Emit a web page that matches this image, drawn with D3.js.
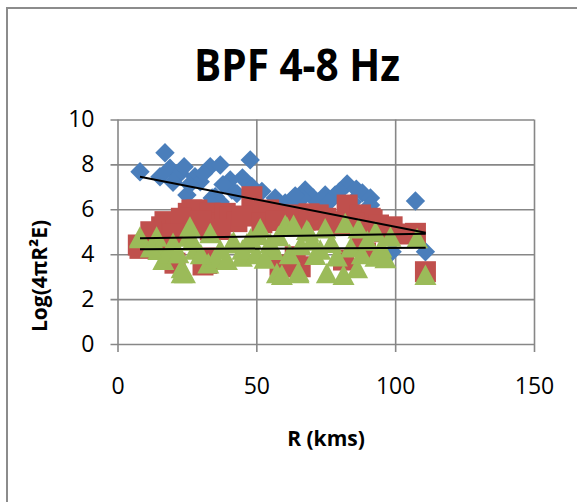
<!DOCTYPE html>
<html>
<head>
<meta charset="utf-8">
<script src="https://cdn.jsdelivr.net/npm/d3@7"></script>
<style>
  body { margin: 0; background: #fff; }
  text { font-family: "Open Sans", sans-serif; fill: #000; }
</style>
</head>
<body>
<div id="chart"></div>
<script>
var width = 577;
var height = 502;

// series: [R (km), Log(4πR²E)]
var blueDiamonds = [[8.1,7.67],[17.1,8.52],[15.3,7.45],[18.9,7.83],[22.5,7.6],[25.0,6.64],[27.9,7.45],[29.8,7.23],
    [33.4,7.9],[37.0,7.97],[35.2,6.56],[40.6,7.31],[41.2,6.86],[47.8,8.2],[48.4,7.01],[34.1,6.5],[37.0,6.33],
    [33.4,6.28],[56.8,6.5],[60.4,6.28],[63.3,6.19],[67.6,6.86],[70.5,6.5],[66.5,6.5],[72.3,6.33],[74.8,6.64],
    [78.4,6.64],[82.7,7.13],[84.6,6.33],[88.2,6.73],[91.1,6.5],[91.1,6.19],[107.3,6.37],[110.9,4.11],[98.9,4.11],
    [20,7.2],[24,7.9],[31,7.6],[38,7.1],[43,6.7],[45,7.4],[26,7.1],[52,6.8],[58,6.3],[80,6.8],[86,6.9],
    [64,6.6],[76,6.3]];

var redSquares = [[8.1,4.26],[7.5,4.41],[15.9,5.22],[18.3,5.3],[17.1,5.45],[14.7,4.33],[25.5,5.82],[26.8,5.97],
    [28.6,5.97],[33.4,5.83],[35.8,5.38],[33.4,5.08],[32.6,5.3],[38.8,5.82],[40.6,5.67],[43.0,5.45],[48.4,6.56],
    [49.0,5.97],[54.4,5.97],[55.0,5.82],[61.6,5.67],[63.4,5.67],[62.2,5.75],[67.6,5.52],[70.6,5.52],[72.3,5.75],
    [77.2,5.45],[82.7,6.19],[87.5,5.75],[91.0,5.6],[91.7,5.52],[98.9,5.22],[107.3,4.93],[110.9,3.22],[88.0,4.63],
    [89.3,4.05],[81.4,3.74],[61.6,3.44],[64.0,3.89],[58.6,3.44],[65.8,3.44],[58.6,3.52],[31.6,3.83],[32.2,3.59],
    [30.8,3.52],[20.7,3.6],[21,5.1],[23,5.6],[30,5.5],[37,5.1],[45,5.7],[52,5.4],[57,5.5],[65,5.3],[69,5.8],
    [75,5.6],[80,5.3],[85,5.4],[94,5.3],[96,5.0],[102,4.9],[12,5.0],[20,4.9]];

var greenTriangles = [[8.1,4.78],[8.1,4.71],[14.1,4.78],[14.7,4.19],[16.5,3.74],[18.3,4.04],[21.9,4.04],[23.1,3.37],
    [24.3,3.15],[23.1,3.15],[25.5,4.78],[26.1,5.22],[32.7,3.59],[33.4,4.93],[35.2,3.82],[39.4,3.74],[41.2,4.48],
    [41.8,4.56],[44.8,3.89],[46.6,4.48],[50.8,4.86],[51.4,5.15],[56.2,4.19],[57.4,3.15],[59.2,3.07],[60.4,5.3],
    [61.0,5.22],[63.4,5.3],[65.2,3.22],[65.2,3.15],[68.2,5.08],[68.8,5.0],[71.2,3.96],[74.8,5.15],[75.4,3.15],
    [81.4,3.07],[82.0,5.38],[86.3,3.37],[86.8,5.15],[92.9,5.0],[92.9,3.89],[96.5,3.82],[98.3,4.78],[107.9,4.71],
    [110.9,3.07],[12,4.3],[20,4.5],[28,4.2],[30,4.0],[37,4.2],[45,4.2],[50,4.0],[53,3.8],[55,4.5],[62,4.0],
    [66,4.4],[70,4.6],[73,4.2],[77,4.5],[79,3.9],[84,4.3],[88,4.0],[90,4.6],[95,4.3],[27,4.6],[48,4.7],[58,4.8]];

// linear trend lines (end points)
var blueTrend = [[8.1,7.45],[111,4.96]];
var redTrend = [[8.1,4.71],[111,4.91]];
var greenTrend = [[8.1,4.22],[111,4.29]];

var xTicks = [0, 50, 100, 150];
var yTicks = [0, 2, 4, 6, 8, 10];

var svg = d3.select("#chart").append("svg")
    .attr("width", width)
    .attr("height", height);

// chart frame
svg.append("rect")
    .attr("x", 7).attr("y", 8)
    .attr("width", 620).attr("height", 540)
    .attr("fill", "#fff")
    .attr("stroke", "#8c8c8c")
    .attr("stroke-width", 2);

var x = d3.scaleLinear().domain([0, 150]).range([117.5, 534]);
var y = d3.scaleLinear().domain([0, 10]).range([344, 119.5]);

var gridColor = "#878787";

// y axis + horizontal grid
svg.append("g")
    .attr("transform", "translate(" + x(0) + ",0)")
    .call(d3.axisLeft(y).tickValues(yTicks).tickSize(7).tickPadding(16))
    .call(g => g.select(".domain").remove())
    .call(g => g.selectAll(".tick line")
        .attr("x2", x(150) - x(0)).attr("x1", -7)
        .attr("stroke", gridColor).attr("stroke-width", 1.6))
    .call(g => g.selectAll(".tick text")
        .attr("font-size", 23).attr("font-family", "Open Sans").attr("fill", "#000"));

// x axis + vertical grid
svg.append("g")
    .attr("transform", "translate(0," + y(0) + ")")
    .call(d3.axisBottom(x).tickValues(xTicks).tickSize(8).tickPadding(26))
    .call(g => g.select(".domain").remove())
    .call(g => g.selectAll(".tick line")
        .attr("y1", 8).attr("y2", y(10) - y(0))
        .attr("stroke", gridColor).attr("stroke-width", 1.6))
    .call(g => g.selectAll(".tick text")
        .attr("font-size", 23).attr("font-family", "Open Sans").attr("fill", "#000"));

var plot = svg.append("g");

plot.selectAll(".blue")
    .data(blueDiamonds)
    .enter().append("path")
    .attr("class", "blue")
    .attr("d", d3.symbol().type(d3.symbolDiamond2).size(240))
    .attr("transform", d => "translate(" + x(d[0]) + "," + y(d[1]) + ")")
    .attr("fill", "#4a7ebb");

plot.selectAll(".red")
    .data(redSquares)
    .enter().append("rect")
    .attr("class", "red")
    .attr("x", d => x(d[0]) - 10.5)
    .attr("y", d => y(d[1]) - 10.5)
    .attr("width", 21).attr("height", 21)
    .attr("fill", "#c0504d");

plot.selectAll(".green")
    .data(greenTriangles)
    .enter().append("path")
    .attr("class", "green")
    .attr("d", d => {
        var cx = x(d[0]), cy = y(d[1]);
        return "M" + cx + "," + (cy - 10.5) + "L" + (cx + 11) + "," + (cy + 10) + "L" + (cx - 11) + "," + (cy + 10) + "Z";
    })
    .attr("fill", "#9bbb59");

var line = d3.line().x(d => x(d[0])).y(d => y(d[1]));
[blueTrend, redTrend, greenTrend].forEach(function (t) {
    plot.append("path")
        .attr("d", line(t))
        .attr("fill", "none")
        .attr("stroke", "#000")
        .attr("stroke-width", 2);
});

// titles
svg.append("text")
    .attr("x", 297).attr("y", 81)
    .attr("text-anchor", "middle")
    .attr("font-size", 45)
    .attr("font-weight", "bold")
    .attr("textLength", 206)
    .attr("lengthAdjust", "spacingAndGlyphs")
    .text("BPF 4-8 Hz");

svg.append("text")
    .attr("x", 326).attr("y", 446)
    .attr("text-anchor", "middle")
    .attr("font-size", 21)
    .attr("font-weight", "bold")
    .text("R (kms)");

svg.append("text")
    .attr("transform", "translate(47,276) rotate(-90)")
    .attr("text-anchor", "middle")
    .attr("font-size", 21)
    .attr("font-weight", "bold")
    .text("Log(4πR²E)");
</script>
</body>
</html>
